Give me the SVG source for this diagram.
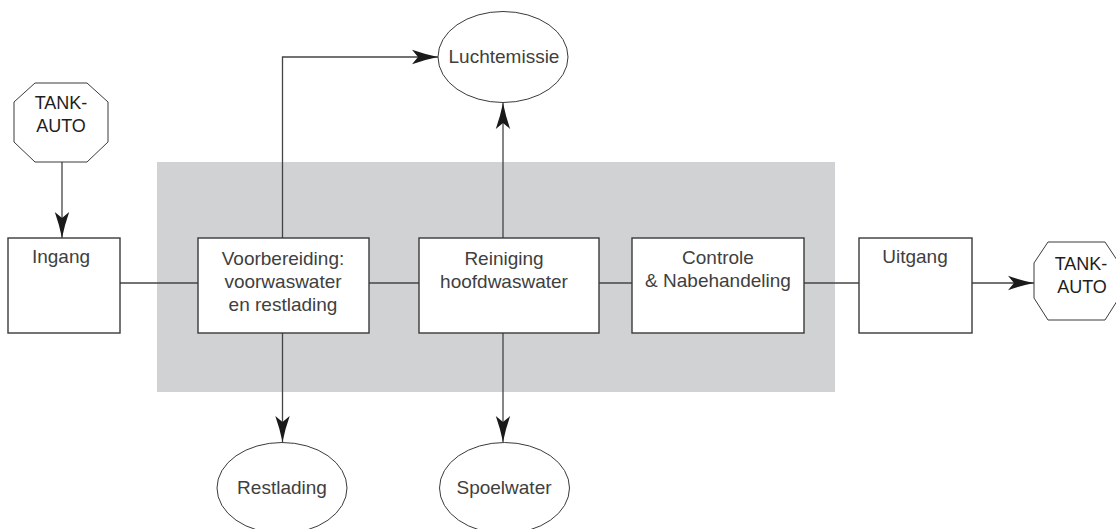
<svg xmlns="http://www.w3.org/2000/svg" width="1116" height="529" viewBox="0 0 1116 529">
  <style>
    .box { fill: #ffffff; stroke: #3a3a3a; stroke-width: 1.4; }
    .oval { fill: #ffffff; stroke: #3a3a3a; stroke-width: 1; }
    .oct { fill: #ffffff; stroke: #3a3a3a; stroke-width: 1; }
    .lbl { font-family: "Liberation Sans", Arial, sans-serif; font-size: 19px; fill: #404040; text-anchor: middle; }
    .tank { font-family: "Liberation Sans", Arial, sans-serif; font-size: 18px; fill: #1e1e1e; text-anchor: middle; }
    .conn { fill: none; stroke: #444444; stroke-width: 1.3; }
  </style>
  <defs>
    <marker id="arrow" markerUnits="userSpaceOnUse" markerWidth="30" markerHeight="18" viewBox="-28 -9 29 18" refX="0" refY="0" orient="auto">
      <path d="M0,0 Q-13,-2.6 -26,-7.2 L-20,0 L-26,7.2 Q-13,2.6 0,0 Z" fill="#1a1a1a"/>
    </marker>
  </defs>

  <rect id="background-zone" x="157" y="162" width="678" height="230" fill="#d1d2d4"/>

  <g id="connectors">
    <line class="conn" x1="62" y1="162" x2="62" y2="238" marker-end="url(#arrow)"/>
    <line class="conn" x1="120" y1="283" x2="198" y2="283"/>
    <line class="conn" x1="369" y1="283" x2="419" y2="283"/>
    <line class="conn" x1="599" y1="283" x2="632" y2="283"/>
    <line class="conn" x1="804" y1="283" x2="859" y2="283"/>
    <line class="conn" x1="972" y1="283" x2="1034" y2="283" marker-end="url(#arrow)"/>
    <path class="conn" d="M282.5,238 V57 H438" marker-end="url(#arrow)"/>
    <line class="conn" x1="503" y1="238" x2="503" y2="103" marker-end="url(#arrow)"/>
    <line class="conn" x1="282.5" y1="333" x2="282.5" y2="442" marker-end="url(#arrow)"/>
    <line class="conn" x1="503" y1="333" x2="503" y2="442" marker-end="url(#arrow)"/>
  </g>

  <g id="tankauto-in">
    <polygon class="oct" points="14,102 35,83 87,83 108,102 108,142 87,162 35,162 14,142"/>
    <text class="tank" x="61" y="109">TANK-</text>
    <text class="tank" x="61" y="132">AUTO</text>
  </g>

  <g id="ingang">
    <rect class="box" x="8" y="238" width="112" height="95"/>
    <text class="lbl" x="61" y="263">Ingang</text>
  </g>

  <g id="voorbereiding">
    <rect class="box" x="198" y="238" width="171" height="95"/>
    <text class="lbl" x="283" y="265">Voorbereiding:</text>
    <text class="lbl" x="283" y="288">voorwaswater</text>
    <text class="lbl" x="283" y="311">en restlading</text>
  </g>

  <g id="reiniging">
    <rect class="box" x="419" y="238" width="180" height="95"/>
    <text class="lbl" x="504" y="265">Reiniging</text>
    <text class="lbl" x="504" y="288">hoofdwaswater</text>
  </g>

  <g id="controle">
    <rect class="box" x="632" y="238" width="172" height="95"/>
    <text class="lbl" x="718" y="264">Controle</text>
    <text class="lbl" x="718" y="287">&amp; Nabehandeling</text>
  </g>

  <g id="uitgang">
    <rect class="box" x="859" y="238" width="113" height="95"/>
    <text class="lbl" x="915" y="263">Uitgang</text>
  </g>

  <g id="tankauto-out">
    <polygon class="oct" points="1034,263 1048,242 1105,242 1119,263 1119,298 1105,320 1048,320 1034,298"/>
    <text class="tank" x="1081" y="270">TANK-</text>
    <text class="tank" x="1082" y="293">AUTO</text>
  </g>

  <g id="luchtemissie">
    <ellipse class="oval" cx="503" cy="57" rx="65" ry="45.5"/>
    <text class="lbl" x="504" y="63">Luchtemissie</text>
  </g>

  <g id="restlading">
    <ellipse class="oval" cx="282" cy="488" rx="65" ry="45.5"/>
    <text class="lbl" x="282" y="494">Restlading</text>
  </g>

  <g id="spoelwater">
    <ellipse class="oval" cx="504.5" cy="488" rx="65" ry="45.5"/>
    <text class="lbl" x="504" y="494">Spoelwater</text>
  </g>
</svg>
